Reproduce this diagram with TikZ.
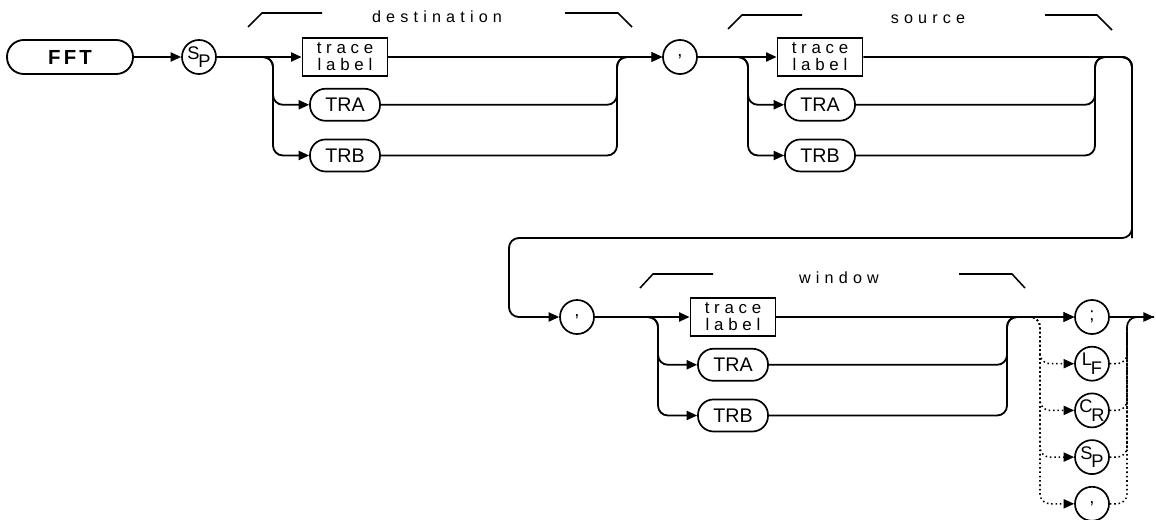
\documentclass[tikz,border=0pt]{standalone}
\usepackage{fontspec}
\setmainfont{Liberation Sans}
\newfontfamily\spacedfont[LetterSpace=32]{Liberation Sans}
\newfontfamily\boxfont[LetterSpace=28]{Liberation Sans}
\newfontfamily\keyfont[LetterSpace=16]{Liberation Sans}
\usetikzlibrary{arrows.meta, positioning, calc}
\newcommand{\subchar}[2]{\raisebox{2.8pt}{#1}\kern-0.8pt\raisebox{-3.2pt}{#2}}
\tikzset{
    % Keyword pill
    keyword/.style={
        rectangle,
        rounded corners=12pt,
        draw,
        line width=1.3pt,
        minimum width=3.15cm,
        minimum height=0.85cm,
        font=\keyfont\bfseries\fontsize{14.5}{15}\selectfont
    },
    % Trace pill
    pill/.style={
        rectangle,
        rounded corners=11pt,
        draw,
        line width=1.2pt,
        minimum width=1.75cm,
        minimum height=0.8cm,
        font=\fontsize{14}{14}\selectfont
    },
    % Parameter box
    param/.style={
        rectangle,
        draw,
        line width=1.3pt,
        minimum width=2.125cm,
        minimum height=0.95cm,
        inner sep=0pt,
        align=center,
        font=\boxfont\fontsize{12}{12}\selectfont
    },
    % Character circle
    symbol/.style={
        circle,
        draw,
        line width=1.2pt,
        minimum size=0.85cm,
        inner sep=0pt,
        font=\fontsize{13}{13}\selectfont
    },
    % Connectors
    conn/.style={
        line width=1.3pt,
        rounded corners=7pt
    },
    arrow/.style={
        conn,
        -{Triangle[length=7.5pt,width=6.5pt]}
    },
    % Optional connectors
    dotline/.style={
        line width=1.1pt,
        dash pattern=on 1.1pt off 2pt,
        rounded corners=7pt
    },
    dotarrow/.style={
        dotline,
        -{Triangle[length=7.5pt,width=6.5pt]}
    },
    % Group labels
    grouplabel/.style={
        font=\spacedfont\fontsize{11.5}{12}\selectfont
    },
    bracketline/.style={
        line width=1.1pt
    }
}
\begin{document}
\begin{tikzpicture}[x=0.025cm, y=-0.025cm]
        \useasboundingbox (0,0) rectangle (1156,519);

        % Destination
        \node (fft) [keyword] at (70,57) {FFT};
        \node (sp1) [symbol] at (199,57) {\subchar{S}{P}};
        \node (tl1) [param] at (345,57) {trace\\label};
        \node (tra1) [pill, below=0.275cm of tl1] {TRA};
        \node (trb1) [pill, below=0.425cm of tra1] {TRB};
        \node (cm1) [symbol] at (680,57) {,};
        \coordinate (br1) at (273,57);
        \coordinate (mg1) at (617,57);

        \draw [arrow] (fft) -- (sp1);
        \draw [arrow] (sp1) -- (tl1);
        \draw [arrow] (sp1.east) -| (br1 |- tra1.west) -- (tra1.west);
        \draw [arrow] (sp1.east) -| (br1 |- trb1.west) -- (trb1.west);
        \draw [arrow] (tl1) -- (cm1);
        \draw [arrow] (tra1.east) -| (mg1) -- (cm1.west);
        \draw [arrow] (trb1.east) -| (mg1) -- (cm1.west);

        % Source
        \node (tl2) [param] at (820,57) {trace\\label};
        \node (tra2) [pill, below=0.275cm of tl2] {TRA};
        \node (trb2) [pill, below=0.425cm of tra2] {TRB};
        \coordinate (br2) at (748,57);
        \coordinate (mg2) at (1095,57);
        \coordinate (lp1) at (1132,238);
        \coordinate (lp2) at (509,238);

        \draw [arrow] (cm1) -- (tl2);
        \draw [arrow] (cm1.east) -| (br2 |- tra2.west) -- (tra2.west);
        \draw [arrow] (cm1.east) -| (br2 |- trb2.west) -- (trb2.west);
        \draw [conn] (tra2.east) -| (mg2) -| (lp1);
        \draw [conn] (trb2.east) -| (mg2) -| (lp1);

        % Window
        \node (cm2) [symbol] at (577,317) {,};
        \node (tl3) [param] at (733,317) {trace\\label};
        \node (tra3) [pill, below=0.275cm of tl3] {TRA};
        \node (trb3) [pill, below=0.425cm of tra3] {TRB};
        \node (sc) [symbol] at (1092,317) {;};
        \coordinate (br3) at (658,317);
        \coordinate (mg3) at (1007,317);
        \coordinate (out) at (1154,317);

        \draw [arrow] (tl2.east) -| (lp1) -- (lp2) |- (cm2.west);
        \draw [arrow] (cm2) -- (tl3);
        \draw [arrow] (cm2.east) -| (br3 |- tra3.west) -- (tra3.west);
        \draw [arrow] (cm2.east) -| (br3 |- trb3.west) -- (trb3.west);
        \draw [arrow] (tl3) -- (sc);
        \draw [arrow] (tra3.east) -| (mg3) -- (sc.west);
        \draw [arrow] (trb3.east) -| (mg3) -- (sc.west);
        \draw [arrow] (sc) -- (out);

        % Terminators
        \node (lf) [symbol, below=0.275cm of sc] {\subchar{L}{F}};
        \node (cr) [symbol, below=0.275cm of lf] {\subchar{C}{R}};
        \node (sp2) [symbol, below=0.275cm of cr] {\subchar{S}{P}};
        \node (cm3) [symbol, below=0.275cm of sp2] {,};
        \coordinate (dt1) at (1040,317);
        \coordinate (dt2) at (1127,317);

        \draw [dotarrow] (mg3) -| (dt1 |- lf.west) -- (lf.west);
        \draw [dotarrow] (mg3) -| (dt1 |- cr.west) -- (cr.west);
        \draw [dotarrow] (mg3) -| (dt1 |- sp2.west) -- (sp2.west);
        \draw [dotarrow] (mg3) -| (dt1 |- cm3.west) -- (cm3.west);
        \draw [dotline] (lf.east) -| (dt2) -- (out);
        \draw [dotline] (cr.east) -| (dt2) -- (out);
        \draw [dotline] (sp2.east) -| (dt2) -- (out);
        \draw [dotline] (cm3.east) -| (dt2) -- (out);

        % Group labels
        \node (dstlabel) [grouplabel] at (437,17) {destination};
        \node (srclabel) [grouplabel] at (928,19) {source};
        \node (winlabel) [grouplabel] at (839,278) {window};
        \draw [bracketline] (248,27) -- (262,13) -- (322,13);
        \draw [bracketline] (565,13) -- (618,13) -- (632,27);
        \draw [bracketline] (728,29) -- (742,15) -- (802,15);
        \draw [bracketline] (1045,15) -- (1097,15) -- (1112,30);
        \draw [bracketline] (640,288) -- (653,274) -- (713,274);
        \draw [bracketline] (959,274) -- (1012,274) -- (1025,288);
    \end{tikzpicture}
\end{document}
